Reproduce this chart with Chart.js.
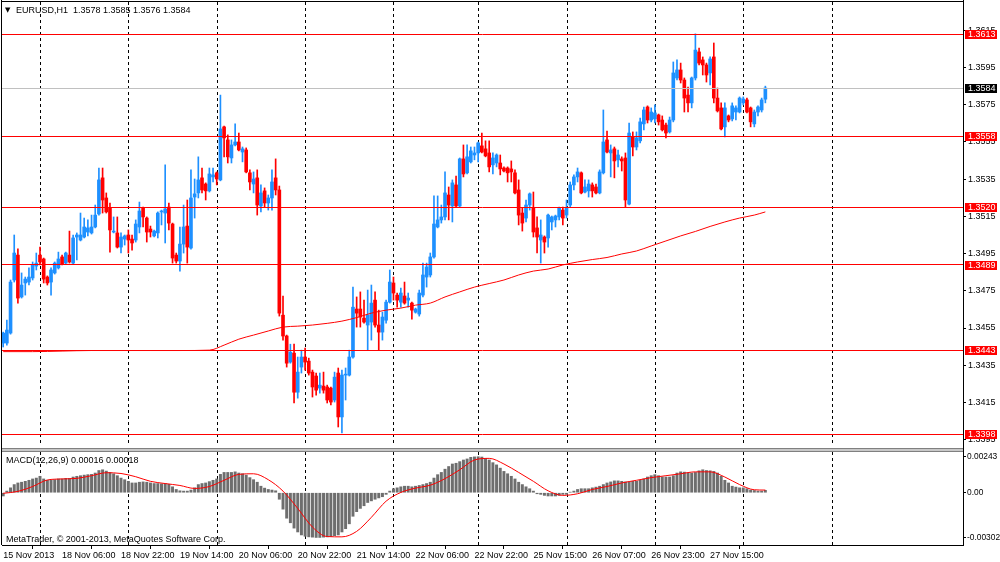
<!DOCTYPE html>
<html><head><meta charset="utf-8">
<script src="https://cdn.jsdelivr.net/npm/chart.js@4.4.0/dist/chart.umd.min.js"></script>
<style>
html,body{margin:0;padding:0;background:#fff;width:1000px;height:562px;overflow:hidden}
canvas{position:absolute;left:0}
#main{top:0}
#macd{top:448px}
</style></head>
<body>
<canvas id="main" width="1000" height="448"></canvas>
<canvas id="macd" width="1000" height="114"></canvas>
<script>
// ---------------- DATA ----------------
const symbolTitle = 'EURUSD,H1';
const ohlcTitle = ['1.3578', '1.3585', '1.3576', '1.3584'];

const open = [
1.34469,1.34469,1.34523,1.34808,1.34942,1.34717,1.34792,1.34797,1.34819,1.34883,
1.34942,1.34921,1.34824,1.34797,1.34846,1.34873,1.34932,1.34899,1.34942,1.34899,
1.35039,1.35023,1.35039,1.35066,1.35061,1.35093,1.35163,1.35357,1.35249,1.35195,
1.35066,1.35061,1.34985,1.35028,1.35050,1.35028,1.35023,1.35093,1.35195,1.35141,
1.35082,1.35045,1.35061,1.35174,1.35168,1.35200,1.35109,1.34942,1.34910,1.35001,
1.35098,1.34980,1.35254,1.35276,1.35357,1.35324,1.35287,1.35362,1.35384,1.35346,
1.35631,1.35561,1.35464,1.35534,1.35550,1.35496,1.35507,1.35384,1.35324,1.35357,
1.35206,1.35287,1.35222,1.35249,1.35357,1.35292,1.34619,1.34507,1.34367,1.34415,
1.34205,1.34340,1.34394,1.34372,1.34313,1.34292,1.34227,1.34238,1.34233,1.34227,
1.34163,1.34308,1.34072,1.34297,1.34297,1.34394,1.34652,1.34652,1.34603,1.34566,
1.34582,1.34700,1.34566,1.34528,1.34592,1.34689,1.34792,1.34727,1.34689,1.34722,
1.34700,1.34684,1.34635,1.34625,1.34727,1.34824,1.34835,1.34932,1.35093,1.35131,
1.35147,1.35265,1.35206,1.35319,1.35206,1.35459,1.35384,1.35443,1.35480,1.35491,
1.35529,1.35513,1.35491,1.35427,1.35437,1.35437,1.35410,1.35410,1.35405,1.35384,
1.35292,1.35168,1.35141,1.35211,1.35195,1.35088,1.35023,1.35039,1.35034,1.35120,
1.35131,1.35147,1.35184,1.35157,1.35211,1.35319,1.35362,1.35384,1.35281,1.35287,
1.35319,1.35308,1.35276,1.35384,1.35561,1.35491,1.35513,1.35454,1.35459,1.35464,
1.35216,1.35577,1.35523,1.35556,1.35647,1.35738,1.35668,1.35674,1.35695,1.35668,
1.35641,1.35604,1.35668,1.35894,1.35937,1.35883,1.35802,1.35760,1.35894,1.36034,
1.35991,1.35964,1.35921,1.36007,1.35786,1.35733,1.35631,1.35690,1.35674,1.35711,
1.35711,1.35760,1.35776,1.35733,1.35647,1.35711,1.35722,1.35780];

const high = [
1.34528,1.34592,1.34808,1.35050,1.34975,1.34846,1.34824,1.34873,1.34905,1.34953,
1.34985,1.34926,1.34830,1.34873,1.34905,1.34958,1.34942,1.34958,1.35071,1.35050,
1.35061,1.35168,1.35141,1.35131,1.35157,1.35211,1.35410,1.35410,1.35276,1.35222,
1.35147,1.35147,1.35061,1.35050,1.35077,1.35050,1.35131,1.35227,1.35200,1.35147,
1.35098,1.35077,1.35174,1.35184,1.35427,1.35222,1.35114,1.34953,1.35093,1.35211,
1.35238,1.35400,1.35351,1.35470,1.35410,1.35330,1.35410,1.35410,1.35389,1.35802,
1.35636,1.35588,1.35561,1.35647,1.35598,1.35523,1.35518,1.35400,1.35389,1.35400,
1.35319,1.35303,1.35265,1.35400,1.35459,1.35313,1.34722,1.34512,1.34463,1.34463,
1.34394,1.34431,1.34442,1.34388,1.34324,1.34308,1.34308,1.34313,1.34243,1.34233,
1.34313,1.34335,1.34324,1.34335,1.34431,1.34770,1.34717,1.34744,1.34700,1.34754,
1.34781,1.34744,1.34646,1.34635,1.34700,1.34862,1.34824,1.34738,1.34765,1.34797,
1.34738,1.34689,1.34657,1.34754,1.34899,1.34899,1.34953,1.35260,1.35260,1.35211,
1.35389,1.35308,1.35346,1.35367,1.35464,1.35534,1.35534,1.35523,1.35523,1.35550,
1.35598,1.35556,1.35556,1.35491,1.35486,1.35480,1.35416,1.35416,1.35448,1.35400,
1.35346,1.35195,1.35238,1.35276,1.35281,1.35147,1.35131,1.35045,1.35163,1.35152,
1.35157,1.35200,1.35200,1.35238,1.35335,1.35373,1.35410,1.35389,1.35346,1.35346,
1.35330,1.35324,1.35400,1.35722,1.35609,1.35534,1.35523,1.35507,1.35470,1.35491,
1.35652,1.35604,1.35604,1.35679,1.35738,1.35744,1.35733,1.35749,1.35700,1.35690,
1.35652,1.35684,1.35980,1.35991,1.35974,1.35894,1.35845,1.35899,1.36131,1.36055,
1.36007,1.35974,1.36007,1.36082,1.35840,1.35760,1.35760,1.35695,1.35760,1.35744,
1.35792,1.35792,1.35786,1.35738,1.35722,1.35744,1.35786,1.35850];

const low = [
1.34448,1.34458,1.34517,1.34797,1.34684,1.34711,1.34727,1.34781,1.34808,1.34862,
1.34889,1.34792,1.34781,1.34727,1.34840,1.34867,1.34889,1.34894,1.34899,1.34894,
1.34916,1.35018,1.35034,1.35045,1.35055,1.35088,1.35157,1.35168,1.35168,1.34958,
1.35061,1.34980,1.34953,1.34996,1.34953,1.34969,1.35012,1.35061,1.35093,1.35012,
1.35039,1.35039,1.35034,1.35104,1.35007,1.35077,1.34899,1.34899,1.34856,1.34953,
1.34899,1.34974,1.35141,1.35249,1.35276,1.35238,1.35281,1.35335,1.35319,1.35341,
1.35470,1.35437,1.35437,1.35529,1.35502,1.35443,1.35384,1.35292,1.35276,1.35157,
1.35174,1.35200,1.35184,1.35184,1.35265,1.34614,1.34485,1.34340,1.34361,1.34147,
1.34173,1.34308,1.34324,1.34297,1.34179,1.34189,1.34200,1.34200,1.34147,1.34136,
1.34152,1.34018,1.33986,1.34163,1.34292,1.34388,1.34555,1.34555,1.34576,1.34431,
1.34485,1.34555,1.34431,1.34485,1.34576,1.34684,1.34700,1.34662,1.34662,1.34678,
1.34662,1.34598,1.34630,1.34614,1.34717,1.34770,1.34824,1.34926,1.35088,1.35114,
1.35131,1.35131,1.35120,1.35200,1.35200,1.35362,1.35378,1.35437,1.35454,1.35443,
1.35491,1.35470,1.35389,1.35378,1.35416,1.35373,1.35389,1.35335,1.35335,1.35271,
1.35104,1.35071,1.35120,1.35184,1.35039,1.34953,1.34899,1.34953,1.34985,1.35077,
1.35093,1.35131,1.35104,1.35141,1.35200,1.35292,1.35335,1.35271,1.35276,1.35254,
1.35254,1.35271,1.35271,1.35378,1.35491,1.35362,1.35357,1.35416,1.35394,1.35200,
1.35211,1.35475,1.35507,1.35545,1.35615,1.35652,1.35658,1.35652,1.35641,1.35609,
1.35572,1.35598,1.35658,1.35883,1.35867,1.35711,1.35711,1.35733,1.35883,1.35964,
1.35910,1.35872,1.35856,1.35760,1.35711,1.35615,1.35577,1.35658,1.35663,1.35668,
1.35706,1.35749,1.35706,1.35631,1.35631,1.35690,1.35711,1.35760];

const close = [
1.34523,1.34539,1.34797,1.34953,1.34711,1.34781,1.34813,1.34824,1.34889,1.34899,
1.34905,1.34813,1.34792,1.34862,1.34899,1.34921,1.34894,1.34953,1.34905,1.35034,
1.35050,1.35050,1.35093,1.35088,1.35093,1.35157,1.35346,1.35238,1.35174,1.35077,
1.35071,1.34985,1.35039,1.35045,1.35023,1.35007,1.35109,1.35179,1.35147,1.35066,
1.35066,1.35071,1.35168,1.35179,1.35190,1.35114,1.34926,1.34910,1.35001,1.35093,
1.34985,1.35249,1.35271,1.35346,1.35292,1.35287,1.35378,1.35373,1.35351,1.35620,
1.35572,1.35470,1.35534,1.35550,1.35507,1.35513,1.35389,1.35335,1.35351,1.35211,
1.35276,1.35222,1.35249,1.35335,1.35292,1.34630,1.34507,1.34361,1.34420,1.34205,
1.34313,1.34394,1.34367,1.34308,1.34233,1.34216,1.34243,1.34216,1.34163,1.34152,
1.34286,1.34072,1.34297,1.34302,1.34394,1.34662,1.34630,1.34609,1.34582,1.34619,
1.34684,1.34566,1.34528,1.34609,1.34689,1.34797,1.34738,1.34700,1.34738,1.34684,
1.34711,1.34646,1.34652,1.34738,1.34835,1.34878,1.34932,1.35109,1.35131,1.35147,
1.35276,1.35211,1.35330,1.35206,1.35459,1.35378,1.35470,1.35502,1.35491,1.35545,
1.35496,1.35475,1.35416,1.35464,1.35480,1.35405,1.35394,1.35384,1.35389,1.35276,
1.35157,1.35114,1.35211,1.35271,1.35066,1.35039,1.35050,1.35012,1.35157,1.35147,
1.35152,1.35195,1.35141,1.35195,1.35319,1.35362,1.35389,1.35276,1.35308,1.35324,
1.35287,1.35276,1.35389,1.35550,1.35496,1.35507,1.35448,1.35480,1.35448,1.35238,
1.35598,1.35523,1.35572,1.35658,1.35722,1.35668,1.35711,1.35706,1.35658,1.35615,
1.35598,1.35668,1.35921,1.35937,1.35883,1.35786,1.35760,1.35894,1.36044,1.35974,
1.35964,1.35910,1.35996,1.35786,1.35717,1.35620,1.35733,1.35668,1.35744,1.35733,
1.35786,1.35781,1.35711,1.35658,1.35711,1.35738,1.35776,1.35840];

// moving average, read at every 4th-8th bar
const maIdx = [0,8,16,24,32,40,48,56,60,64,68,72,76,80,84,88,92,96,100,104,108,112,116,120,124,128,
  132,136,140,144,148,152,156,160,164,168,172,176,180,184,188,192,196,200,204,207];
const maVal = [1.34423,1.34423,1.34426,1.34429,1.34429,1.34429,1.34429,1.34431,1.34458,1.34490,1.34512,
  1.34534,1.34555,1.34560,1.34566,1.34575,1.34587,1.34606,1.34630,1.34646,1.34657,1.34673,1.34684,
  1.34717,1.34744,1.34770,1.34789,1.34808,1.34835,1.34856,1.34867,1.34889,1.34905,1.34918,1.34929,
  1.34948,1.34964,1.34991,1.35018,1.35045,1.35069,1.35096,1.35120,1.35141,1.35157,1.35174];

// MACD histogram, one per bar
const macdHist = [
-0.00022,0.00011,0.00033,0.00055,0.00066,0.00071,0.00077,0.00084,0.00093,0.00099,
0.00111,0.00093,0.00084,0.00084,0.00088,0.00093,0.00093,0.00097,0.00097,0.00106,
0.00111,0.00115,0.00119,0.00122,0.00124,0.00133,0.00150,0.00155,0.00146,0.00137,
0.00128,0.00115,0.00099,0.00088,0.00077,0.00066,0.00066,0.00071,0.00073,0.00071,
0.00066,0.00062,0.00062,0.00060,0.00062,0.00057,0.00040,0.00022,0.00013,0.00011,
0.00011,0.00018,0.00033,0.00055,0.00062,0.00066,0.00075,0.00084,0.00093,0.00124,
0.00137,0.00137,0.00137,0.00141,0.00133,0.00128,0.00119,0.00102,0.00088,0.00071,
0.00044,0.00031,0.00022,0.00018,0.00013,-0.00044,-0.00111,-0.00172,-0.00203,-0.00239,
-0.00265,-0.00285,-0.00294,-0.00298,-0.00300,-0.00302,-0.00302,-0.00300,-0.00298,-0.00296,
-0.00290,-0.00285,-0.00265,-0.00243,-0.00210,-0.00159,-0.00128,-0.00106,-0.00088,-0.00066,
-0.00055,-0.00044,-0.00035,-0.00027,-0.00011,0.00011,0.00027,0.00033,0.00040,0.00044,
0.00044,0.00040,0.00044,0.00049,0.00055,0.00062,0.00071,0.00099,0.00122,0.00137,
0.00159,0.00177,0.00194,0.00199,0.00210,0.00221,0.00228,0.00239,0.00242,0.00243,
0.00241,0.00232,0.00221,0.00203,0.00188,0.00166,0.00144,0.00128,0.00111,0.00093,
0.00071,0.00055,0.00040,0.00027,0.00011,-0.00007,-0.00011,-0.00018,-0.00022,-0.00022,
-0.00022,-0.00018,-0.00011,-0.00011,0.00004,0.00011,0.00022,0.00027,0.00027,0.00027,
0.00033,0.00038,0.00044,0.00055,0.00066,0.00073,0.00080,0.00080,0.00077,0.00073,
0.00073,0.00077,0.00077,0.00084,0.00093,0.00106,0.00115,0.00122,0.00115,0.00106,
0.00106,0.00106,0.00115,0.00133,0.00141,0.00139,0.00133,0.00133,0.00137,0.00148,
0.00155,0.00150,0.00148,0.00144,0.00133,0.00111,0.00084,0.00066,0.00044,0.00038,
0.00033,0.00033,0.00027,0.00018,0.00015,0.00011,0.00011,0.00016];

// MACD signal line, read every 4th bar
const sigIdx = [0,4,8,12,16,20,24,28,32,36,40,44,48,52,56,60,64,68,72,76,80,84,88,92,96,100,
  104,108,112,116,120,124,128,132,136,140,144,148,152,156,160,164,168,172,176,180,184,188,192,196,200,204,207];
const sigVal = [-0.00004,0.00009,0.00042,0.00086,0.00093,0.00097,0.00115,0.00135,0.00130,0.00108,
  0.00077,0.00062,0.00049,0.00029,0.00042,0.00084,0.00124,0.00128,0.00088,0.00011,-0.00106,-0.00232,
  -0.00296,-0.00298,-0.00261,-0.00166,-0.00057,0.00002,0.00031,0.00051,0.00095,0.00155,0.00221,
  0.00232,0.00194,0.00137,0.00077,0.00013,-0.00018,-0.00007,0.00022,0.00042,0.00066,0.00084,
  0.00102,0.00115,0.00128,0.00141,0.00141,0.00106,0.00055,0.00020,0.00018];

const levels = [1.3613, 1.3558, 1.3520, 1.3489, 1.3443, 1.3398];
const levelLabels = ['1.3613', '1.3558', '1.3520', '1.3489', '1.3443', '1.3398'];
const bidLevel = 1.3584;
const bidLabel = '1.3584';

const priceTicks = [1.3615,1.3595,1.3575,1.3555,1.3535,1.3515,1.3495,1.3475,1.3455,1.3435,1.3415,1.3395];
const priceTickLabels = ['1.3615','1.3595','1.3575','1.3555','1.3535','1.3515','1.3495','1.3475','1.3455','1.3435','1.3415','1.3395'];
const macdTicks = [0.00243, 0, -0.00302];
const macdTickLabels = ['0.00243', '0.00', '-0.00302'];
const macdTitle = 'MACD(12,26,9) 0.00016 0.00018';
const copyright = 'MetaTrader, \u00A9 2001-2013, MetaQuotes Software Corp.';

const xLabelIdx = [0,16,32,48,64,80,96,112,128,144,160,176,192];
const xLabels = ['15 Nov 2013','18 Nov 06:00','18 Nov 22:00','19 Nov 14:00','20 Nov 06:00','20 Nov 22:00',
  '21 Nov 14:00','22 Nov 06:00','22 Nov 22:00','25 Nov 15:00','26 Nov 07:00','26 Nov 23:00','27 Nov 15:00'];
const sepIdx = [10,34,58,82,106,129,153,177,201,225];

// ---------------- STYLE ----------------
const FONT = "'Liberation Sans', Arial, sans-serif";
const BULL = '#1E90FF', BEAR = '#FF0000';
const X_MIN = -0.32, X_MAX = 260.68;
const Y_MIN = 1.339158, Y_MAX = 1.363023;
const M_MIN = -0.00353, M_MAX = 0.00275;

const idx = open.map((_, i) => i);
const wickData = idx.map(i => ({x: i, y: [low[i], high[i]]}));
const bodyData = idx.map(i => ({x: i, y: [open[i], close[i]]}));
const colors = idx.map(i => close[i] >= open[i] ? BULL : BEAR);
const maData = maIdx.map((b, k) => ({x: b, y: maVal[k]}));
const histData = idx.map(i => ({x: i, y: macdHist[i]}));
const sigData = sigIdx.map((b, k) => ({x: b, y: sigVal[k]}));

function drawSeparators(chart) {
  const {ctx, chartArea: a, scales: {x}} = chart;
  ctx.save();
  ctx.strokeStyle = '#000'; ctx.lineWidth = 1; ctx.setLineDash([3, 3]);
  sepIdx.forEach(i => {
    const px = Math.round(x.getPixelForValue(i)) + 0.5;
    ctx.beginPath(); ctx.moveTo(px, a.top); ctx.lineTo(px, a.bottom); ctx.stroke();
  });
  ctx.restore();
}

const mainOverlay = {
  id: 'mainOverlay',
  beforeDatasetsDraw(chart) { drawSeparators(chart); },
  afterDatasetsDraw(chart) {
    const {ctx, chartArea: a, scales: {y}} = chart;
    ctx.save(); ctx.lineWidth = 1;
    const line = (v, c) => {
      const py = Math.round(y.getPixelForValue(v) - 0.5) + 0.5;
      ctx.strokeStyle = c; ctx.beginPath(); ctx.moveTo(a.left, py); ctx.lineTo(a.right, py); ctx.stroke();
    };
    line(bidLevel, '#C0C0C0');
    levels.forEach(v => line(v, '#FF0000'));
    ctx.restore();
  },
  afterDraw(chart) {
    const {ctx, chartArea: a, scales: {y}} = chart;
    ctx.save();
    ctx.strokeStyle = '#000'; ctx.lineWidth = 1;
    ctx.beginPath(); ctx.moveTo(1.5, 0); ctx.lineTo(1.5, 448); ctx.stroke();
    ctx.beginPath(); ctx.moveTo(1, 1.5); ctx.lineTo(a.right, 1.5); ctx.stroke();
    ctx.beginPath(); ctx.moveTo(a.right + 0.5, 0); ctx.lineTo(a.right + 0.5, 448); ctx.stroke();
    ctx.font = '9px ' + FONT; ctx.textBaseline = 'middle'; ctx.textAlign = 'left';
    const box = (v, txt, bg) => {
      const py = Math.round(y.getPixelForValue(v));
      ctx.fillStyle = bg; ctx.fillRect(a.right + 2, py - 4, 32, 9);
      ctx.fillStyle = '#fff'; ctx.fillText(txt, a.right + 5, py + 0.5);
    };
    levels.forEach((v, k) => box(v, levelLabels[k], '#FF0000'));
    box(bidLevel, bidLabel, '#000');
    ctx.fillStyle = '#000'; ctx.textBaseline = 'alphabetic';
    ctx.font = '7px "DejaVu Sans", sans-serif';
    ctx.fillText('\u25BC', 5, 12);
    ctx.font = '9px ' + FONT;
    ctx.fillText(symbolTitle + '  ' + ohlcTitle.join(' '), 16, 13);
    ctx.restore();
  }
};

const macdOverlay = {
  id: 'macdOverlay',
  beforeDatasetsDraw(chart) { drawSeparators(chart); },
  afterDraw(chart) {
    const {ctx, chartArea: a} = chart;
    ctx.save();
    ctx.fillStyle = '#808080'; ctx.fillRect(1, 0, a.right, 4);
    ctx.fillStyle = '#C8C8C8'; ctx.fillRect(1, 1, a.right, 2);
    ctx.strokeStyle = '#000'; ctx.lineWidth = 1;
    ctx.beginPath(); ctx.moveTo(1.5, 0); ctx.lineTo(1.5, a.bottom); ctx.stroke();
    ctx.beginPath(); ctx.moveTo(a.right + 0.5, 0); ctx.lineTo(a.right + 0.5, a.top); ctx.stroke();
    ctx.fillStyle = '#000'; ctx.font = '9px ' + FONT; ctx.textBaseline = 'alphabetic'; ctx.textAlign = 'left';
    ctx.fillText(macdTitle, 6, 15);
    ctx.fillText(copyright, 6, 93.5);
    ctx.restore();
  }
};

const common = {
  animation: false, responsive: false, devicePixelRatio: 1,
  plugins: {legend: {display: false}, tooltip: {enabled: false}}
};

new Chart(document.getElementById('main'), {
  type: 'bar',
  data: {datasets: [
    {type: 'line', data: maData, borderColor: '#FF0000', borderWidth: 1, pointRadius: 0,
     cubicInterpolationMode: 'monotone', order: 0},
    {data: bodyData, backgroundColor: colors, barThickness: 3, grouped: false, borderWidth: 0, order: 1},
    {data: wickData, backgroundColor: colors, barThickness: 1, grouped: false, borderWidth: 0, order: 2}
  ]},
  options: Object.assign({}, common, {
    layout: {padding: {left: 2, top: 2, right: 0, bottom: 2}},
    scales: {
      x: {type: 'linear', min: X_MIN, max: X_MAX, offset: false, display: false},
      y: {position: 'right', min: Y_MIN, max: Y_MAX,
        afterBuildTicks: s => { s.ticks = priceTicks.map(v => ({value: v})); },
        afterFit: s => { s.width = 37; s.paddingTop = 0; s.paddingBottom = 0; },
        ticks: {callback: (v, i) => priceTickLabels[i], color: '#000', padding: 2,
          font: {family: FONT, size: 9}},
        grid: {drawOnChartArea: false, drawTicks: true, tickLength: 3, color: '#000'},
        border: {display: true, color: '#000'}}
    }
  }),
  plugins: [mainOverlay]
});

new Chart(document.getElementById('macd'), {
  type: 'bar',
  data: {datasets: [
    {type: 'line', data: sigData, borderColor: '#FF0000', borderWidth: 1, pointRadius: 0,
     cubicInterpolationMode: 'monotone', order: 0},
    {data: histData, backgroundColor: '#6E6E6E', barThickness: 2.3, borderWidth: 0, order: 1}
  ]},
  options: Object.assign({}, common, {
    layout: {padding: {left: 2, top: 4, right: 0, bottom: 0}},
    scales: {
      x: {type: 'linear', min: X_MIN, max: X_MAX, offset: false,
        afterBuildTicks: s => { s.ticks = xLabelIdx.map(v => ({value: v})); },
        afterFit: s => { s.height = 17; s.paddingLeft = 0; s.paddingRight = 0; },
        ticks: {callback: (v, i) => xLabels[i], align: 'start', autoSkip: false, maxRotation: 0, minRotation: 0,
          color: '#000', padding: 1, font: {family: FONT, size: 9}},
        grid: {drawOnChartArea: false, drawTicks: true, tickLength: 4, color: '#000'},
        border: {display: true, color: '#000'}},
      y: {position: 'right', min: M_MIN, max: M_MAX,
        afterBuildTicks: s => { s.ticks = macdTicks.map(v => ({value: v})); },
        afterFit: s => { s.width = 37; s.paddingTop = 0; s.paddingBottom = 0; },
        ticks: {callback: (v, i) => macdTickLabels[i], color: '#000', padding: 1,
          font: {family: FONT, size: 8.4}},
        grid: {drawOnChartArea: false, drawTicks: true, tickLength: 3, color: '#000'},
        border: {display: true, color: '#000'}}
    }
  }),
  plugins: [macdOverlay]
});
</script>
</body></html>
